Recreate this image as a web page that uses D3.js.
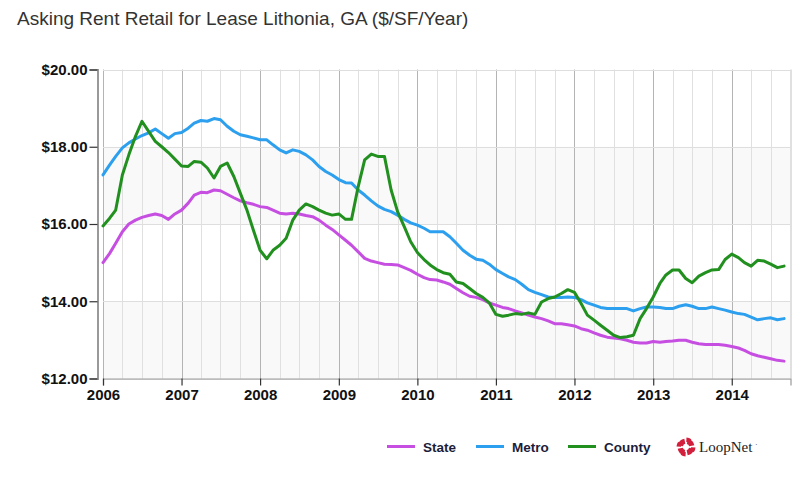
<!DOCTYPE html>
<html>
<head>
<meta charset="utf-8">
<script src="https://cdn.jsdelivr.net/npm/d3@7"></script>
<style>
  body { margin: 0; background: #fff; }
  svg { display: block; }
</style>
</head>
<body>
<svg id="chart" width="810" height="480"></svg>
<script>
const title = "Asking Rent Retail for Lease Lithonia, GA ($/SF/Year)";
const startYear = 2006, startMonth = 0;
const yTicks = [12, 14, 16, 18, 20];
const xTickYears = [2006, 2007, 2008, 2009, 2010, 2011, 2012, 2013, 2014];
const seriesNames = ["State", "Metro", "County"];
const seriesColors = ["#c64fe2", "#2c9fee", "#21901f"];

// Monthly values, Jan 2006 .. Sep 2014
const stateValues = [15.00,15.24,15.50,15.80,16.00,16.10,16.17,16.22,16.26,16.22,16.12,16.26,
  16.36,16.54,16.75,16.82,16.81,16.88,16.86,16.77,16.68,16.60,16.55,16.51,
  16.45,16.43,16.36,16.28,16.26,16.28,16.26,16.22,16.19,16.10,15.97,15.86,
  15.72,15.58,15.45,15.28,15.11,15.04,15.00,14.96,14.95,14.94,14.87,14.80,
  14.70,14.61,14.56,14.55,14.50,14.44,14.33,14.22,14.13,14.10,14.04,13.96,
  13.90,13.84,13.81,13.75,13.70,13.64,13.59,13.55,13.49,13.42,13.42,13.39,
  13.36,13.29,13.25,13.18,13.12,13.07,13.05,13.03,12.99,12.94,12.92,12.92,
  12.96,12.94,12.96,12.97,12.99,12.99,12.94,12.90,12.88,12.88,12.88,12.86,
  12.83,12.79,12.73,12.64,12.59,12.55,12.51,12.47,12.45];
const metroValues = [17.27,17.53,17.75,17.97,18.10,18.20,18.29,18.36,18.46,18.34,18.22,18.34,
  18.37,18.48,18.61,18.68,18.66,18.73,18.70,18.53,18.40,18.31,18.27,18.23,
  18.18,18.18,18.05,17.92,17.84,17.92,17.88,17.79,17.66,17.49,17.36,17.27,
  17.15,17.07,17.06,16.88,16.75,16.60,16.47,16.38,16.32,16.23,16.12,16.03,
  15.97,15.89,15.80,15.80,15.80,15.67,15.50,15.32,15.19,15.09,15.06,14.96,
  14.82,14.72,14.63,14.56,14.44,14.30,14.23,14.17,14.11,14.10,14.10,14.11,
  14.10,14.04,13.96,13.90,13.84,13.81,13.81,13.81,13.81,13.75,13.81,13.85,
  13.85,13.84,13.81,13.81,13.87,13.91,13.87,13.81,13.81,13.85,13.81,13.77,
  13.72,13.68,13.66,13.59,13.52,13.55,13.57,13.52,13.55];
const countyValues = [15.95,16.15,16.36,17.27,17.79,18.27,18.66,18.40,18.14,18.00,17.85,17.68,
  17.50,17.49,17.62,17.60,17.45,17.19,17.49,17.58,17.23,16.80,16.36,15.84,
  15.32,15.10,15.32,15.45,15.63,16.10,16.36,16.52,16.45,16.36,16.28,16.23,
  16.26,16.12,16.12,16.97,17.66,17.81,17.75,17.75,16.88,16.32,15.93,15.54,
  15.26,15.08,14.94,14.82,14.74,14.70,14.50,14.46,14.33,14.20,14.10,13.96,
  13.66,13.61,13.64,13.68,13.66,13.70,13.66,13.98,14.07,14.11,14.20,14.30,
  14.23,13.94,13.64,13.51,13.38,13.25,13.12,13.06,13.08,13.12,13.55,13.81,
  14.11,14.46,14.68,14.81,14.81,14.59,14.48,14.65,14.74,14.81,14.82,15.08,
  15.22,15.13,15.00,14.91,15.06,15.04,14.96,14.87,14.91];
const allSeries = [stateValues, metroValues, countyValues];

const svg = d3.select("#chart");
const font = "'Liberation Sans', Arial, sans-serif";

const plotLeft = 103, plotRight = 790.5, plotTop = 69.5, plotBottom = 378.5;
const x = d3.scaleTime()
  .domain([new Date(2006, 0, 1), new Date(2014, 9, 1)])
  .range([plotLeft, plotRight]);
const y = d3.scaleLinear().domain([12, 20]).range([plotBottom, plotTop]);
const dateOf = i => new Date(startYear, startMonth + i, 1);

// Title
svg.append("text")
  .attr("x", 17).attr("y", 25)
  .attr("font-family", font).attr("font-size", 19)
  .attr("fill", "#333")
  .text(title);

// Bands
const bands = [[12, 14], [16, 18]];
svg.append("g").selectAll("rect").data(bands).join("rect")
  .attr("x", plotLeft).attr("width", plotRight - plotLeft)
  .attr("y", d => y(d[1])).attr("height", d => y(d[0]) - y(d[1]))
  .attr("fill", "#f9f9f9");

// Quarterly vertical gridlines
const quarters = d3.timeMonth.every(3).range(new Date(2006, 0, 1), new Date(2014, 9, 2));
svg.append("g").selectAll("line").data(quarters).join("line")
  .attr("x1", d => Math.round(x(d)) + 0.5).attr("x2", d => Math.round(x(d)) + 0.5)
  .attr("y1", plotTop).attr("y2", plotBottom)
  .attr("stroke", d => d.getMonth() === 0 ? "#b4b4b4" : "#e0e0e0")
  .attr("stroke-width", 1);

// Horizontal gridlines
svg.append("g").selectAll("line").data(yTicks).join("line")
  .attr("x1", plotLeft).attr("x2", plotRight)
  .attr("y1", d => Math.round(y(d)) + 0.5).attr("y2", d => Math.round(y(d)) + 0.5)
  .attr("stroke", "#dedede");

// right border
svg.append("line").attr("x1", plotRight).attr("x2", plotRight).attr("y1", plotTop).attr("y2", plotBottom)
  .attr("stroke", "#e0e0e0");

// Lines
const line = d3.line()
  .x((d, i) => x(dateOf(i)))
  .y(d => y(d));
svg.append("g").selectAll("path").data(allSeries).join("path")
  .attr("d", d => line(d))
  .attr("fill", "none")
  .attr("stroke", (d, i) => seriesColors[i])
  .attr("stroke-width", 3)
  .attr("stroke-linejoin", "round")
  .attr("stroke-linecap", "round");

// Y axis
const yAxis = svg.append("g").attr("transform", "translate(97.5,0)")
  .call(d3.axisLeft(y).tickValues(yTicks).tickSize(8).tickPadding(2)
    .tickFormat(d => "$" + d.toFixed(2)));
yAxis.select(".domain").attr("stroke", "#999").attr("stroke-width", 2);
yAxis.selectAll(".tick line").attr("stroke", "#333").attr("stroke-width", 1.2);
yAxis.selectAll("text").attr("font-family", font).attr("font-size", 15)
  .attr("font-weight", "bold").attr("fill", "#111");

// X axis
const xAxis = svg.append("g").attr("transform", `translate(0,${plotBottom})`)
  .call(d3.axisBottom(x).tickValues(xTickYears.map(yr => new Date(yr, 0, 1)))
    .tickSize(7).tickPadding(4).tickFormat(d3.timeFormat("%Y")));
xAxis.select(".domain").attr("stroke", "#999").attr("stroke-width", 1.2);
xAxis.selectAll(".tick line").attr("stroke", "#333").attr("stroke-width", 1.2);
xAxis.selectAll("text").attr("font-family", font).attr("font-size", 15)
  .attr("font-weight", "bold").attr("fill", "#111");

// Legend
const legendX = [387, 476, 568];
const lg = svg.append("g");
seriesNames.forEach((name, i) => {
  lg.append("line").attr("x1", legendX[i]).attr("x2", legendX[i] + 28)
    .attr("y1", 446.5).attr("y2", 446.5)
    .attr("stroke", seriesColors[i]).attr("stroke-width", 3);
  lg.append("text").attr("x", legendX[i] + 36).attr("y", 451.5)
    .attr("font-family", font).attr("font-size", 13.5).attr("font-weight", "bold")
    .attr("fill", "#1d1d3a").text(name);
});

// LoopNet logo
const logo = svg.append("g").attr("transform", "translate(686,447)");
const arc = d3.arc().innerRadius(3.2).outerRadius(8.5);
for (let k = 0; k < 4; k++) {
  const a0 = k * Math.PI / 2 + 0.25;
  logo.append("path").attr("d", arc({startAngle: a0, endAngle: a0 + Math.PI / 2 - 0.45}))
    .attr("fill", "#d21f3c");
  logo.append("path")
    .attr("d", d3.arc().innerRadius(5).outerRadius(9.5)({startAngle: a0 - 0.2, endAngle: a0 + 0.35}))
    .attr("fill", "#d21f3c");
}
svg.append("text").attr("x", 699).attr("y", 452)
  .attr("font-family", "'Liberation Serif', 'DejaVu Serif', serif")
  .attr("font-size", 15).attr("fill", "#222").text("LoopNet");
svg.append("text").attr("x", 755).attr("y", 447)
  .attr("font-family", font).attr("font-size", 8).attr("fill", "#444").text("·");
</script>
</body>
</html>
